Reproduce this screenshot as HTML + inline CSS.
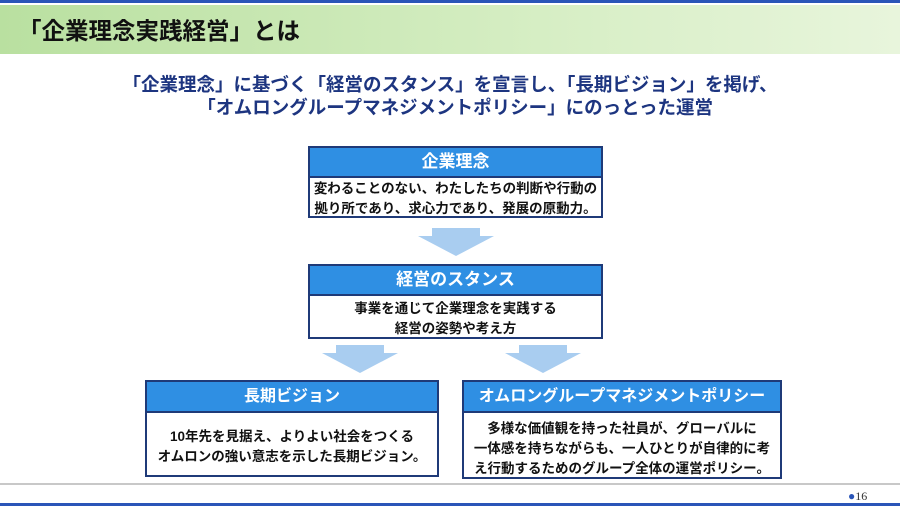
<!DOCTYPE html>
<html><head><meta charset="utf-8"><style>
*{margin:0;padding:0;box-sizing:border-box}
body{width:900px;height:506px;position:relative;overflow:hidden;background:#fff;font-family:"Liberation Sans","Noto Sans CJK JP",sans-serif;font-weight:bold}
.abs{position:absolute}
.box{position:absolute;border:2px solid #1f3a78;background:#fff}
.hd{background:#2f8fe3;color:#fff;text-align:center;border-bottom:2px solid #1f3a78;font-size:17px}
.bd{text-align:center;color:#111;font-size:13.5px;line-height:20px}
.arr{position:absolute;width:76px;height:28px}
</style></head><body>
<div class="abs" style="left:0;top:0;width:900px;height:3px;background:#2a55b8"></div>
<div class="abs" style="left:0;top:5px;width:900px;height:49px;background:linear-gradient(90deg,#b9e0a0,#d6eec4 60%,#e8f5dc)"></div>
<div class="abs" style="left:18px;top:12px;font-size:23.5px;color:#111">「企業理念実践経営」とは</div>
<div class="abs" style="left:0;top:73px;width:900px;text-align:center;font-size:18.5px;line-height:23px;color:#1d3580">「企業理念」に基づく「経営のスタンス」を宣言し、「長期ビジョン」を掲げ、<br>&nbsp;&nbsp;「オムロングループマネジメントポリシー」にのっとった運営</div>

<div class="box" style="left:308px;top:146px;width:295px;height:72px">
<div class="hd" style="height:30px;line-height:28px">企業理念</div>
<div class="bd" style="padding-top:1px">変わることのない、わたしたちの判断や行動の<br>拠り所であり、求心力であり、発展の原動力。</div></div>

<svg class="arr" style="left:418px;top:228px" viewBox="0 0 76 28"><polygon points="14,0 62,0 62,8 76,8 38,28 0,8 14,8" fill="#a9cdf0"/></svg>

<div class="box" style="left:308px;top:264px;width:295px;height:75px">
<div class="hd" style="height:30px;line-height:28px">経営のスタンス</div>
<div class="bd" style="padding-top:3px">事業を通じて企業理念を実践する<br>経営の姿勢や考え方</div></div>

<svg class="arr" style="left:322px;top:345px" viewBox="0 0 76 28"><polygon points="14,0 62,0 62,8 76,8 38,28 0,8 14,8" fill="#a9cdf0"/></svg>
<svg class="arr" style="left:505px;top:345px" viewBox="0 0 76 28"><polygon points="14,0 62,0 62,8 76,8 38,28 0,8 14,8" fill="#a9cdf0"/></svg>

<div class="box" style="left:145px;top:380px;width:294px;height:97px">
<div class="hd" style="height:31px;line-height:29px;font-size:16px">長期ビジョン</div>
<div class="bd" style="padding-top:14px">10年先を見据え、よりよい社会をつくる<br>オムロンの強い意志を示した長期ビジョン。</div></div>

<div class="box" style="left:462px;top:380px;width:320px;height:99px">
<div class="hd" style="height:31px;line-height:29px;font-size:16px">オムロングループマネジメントポリシー</div>
<div class="bd" style="padding-top:6px">多様な価値観を持った社員が、グローバルに<br>一体感を持ちながらも、一人ひとりが自律的に考<br>え行動するためのグループ全体の運営ポリシー。</div></div>

<div class="abs" style="left:0;top:483px;width:900px;height:2px;background:#c8c8c8"></div>
<div class="abs" style="left:848px;top:489px;font-size:12px;font-weight:normal;color:#333;font-family:'Liberation Serif',serif"><span style="color:#2a55b8">●</span>16</div>
<div class="abs" style="left:0;top:503px;width:900px;height:3px;background:#2a55b8"></div>
</body></html>
